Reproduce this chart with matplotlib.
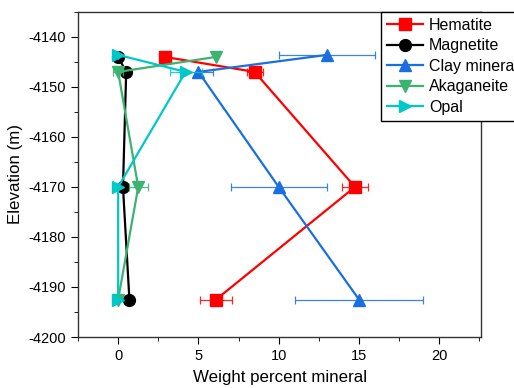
import numpy as np
import matplotlib
matplotlib.use("Agg")
import matplotlib.pyplot as plt
from matplotlib.ticker import MultipleLocator

plt.rcParams['font.family'] = ['Liberation Sans', 'DejaVu Sans']
plt.rcParams['axes.unicode_minus'] = False

# Elevations (m) for each sample level
elev = [-4144, -4147, -4170, -4192.5]

# Weight percent mineral and errors
hematite = [2.9, 8.5, 14.75, 6.1]
hematite_err = [0.0, 0.5, 0.8, 1.0]
magnetite = [0.0, 0.5, 0.3, 0.7]
magnetite_err = [0.0, 0.0, 0.0, 0.0]
clay = [13.0, 5.0, 10.0, 15.0]
clay_err = [3.0, 0.9, 3.0, 4.0]
akaganeite = [6.1, 0.0, 1.25, 0.0]
akaganeite_err = [0.0, 0.3, 0.6, 0.0]
opal = [0.0, 4.2, 0.0, 0.0]
opal_err = [0.0, 1.0, 0.0, 0.0]

elev_clay = [-4143.6, -4147, -4170, -4192.5]
elev_opal = [-4143.6, -4147, -4170, -4192.5]

fig = plt.figure(figsize=(5.14, 3.88), dpi=100)
ax = fig.add_axes([0.1518, 0.1314, 0.784, 0.838])

series = [
    ("Hematite", hematite, hematite_err, elev, '#FF0000', 's', 8),
    ("Magnetite", magnetite, magnetite_err, elev, '#000000', 'o', 8.5),
    ("Clay minerals", clay, clay_err, elev_clay, '#1A6FE0', '^', 9),
    ("Akaganeite", akaganeite, akaganeite_err, elev, '#3CB371', 'v', 9),
    ("Opal", opal, opal_err, elev_opal, '#00C8C8', '>', 9),
]

for name, x, xe, y, c, m, ms in series:
    ax.errorbar(x, y, xerr=xe, fmt='none', ecolor=c, elinewidth=0.9,
                capsize=3, capthick=0.9, alpha=0.85)
    ax.plot(x, y, color=c, marker=m, markersize=ms, linewidth=1.6, label=name)

ax.set_xlim(-2.5, 22.6)
ax.set_ylim(-4200, -4135)
ax.xaxis.set_major_locator(MultipleLocator(5))
ax.xaxis.set_minor_locator(MultipleLocator(2.5))
ax.yaxis.set_major_locator(MultipleLocator(10))
ax.yaxis.set_minor_locator(MultipleLocator(5))
ax.tick_params(which='both', direction='out', top=False, right=False, labelsize=10.5)
ax.tick_params(which='major', length=5)
ax.tick_params(which='minor', length=3)
for s in ax.spines.values():
    s.set_linewidth(1.0)
    s.set_color('#333333')

ax.set_xlabel("Weight percent mineral", fontsize=12.2, labelpad=5)
ax.set_ylabel("Elevation (m)", fontsize=12.2, labelpad=4)

leg = ax.legend(loc='upper left', bbox_to_anchor=(381 / 514, 1 - 12 / 388),
                bbox_transform=fig.transFigure, borderaxespad=0,
                fontsize=11.5, labelspacing=0.35, handlelength=2.3,
                handletextpad=0.35, borderpad=0.35, fancybox=False,
                framealpha=1, edgecolor='black')
leg.get_frame().set_linewidth(1.0)

fig.savefig("out.png", dpi=100)
